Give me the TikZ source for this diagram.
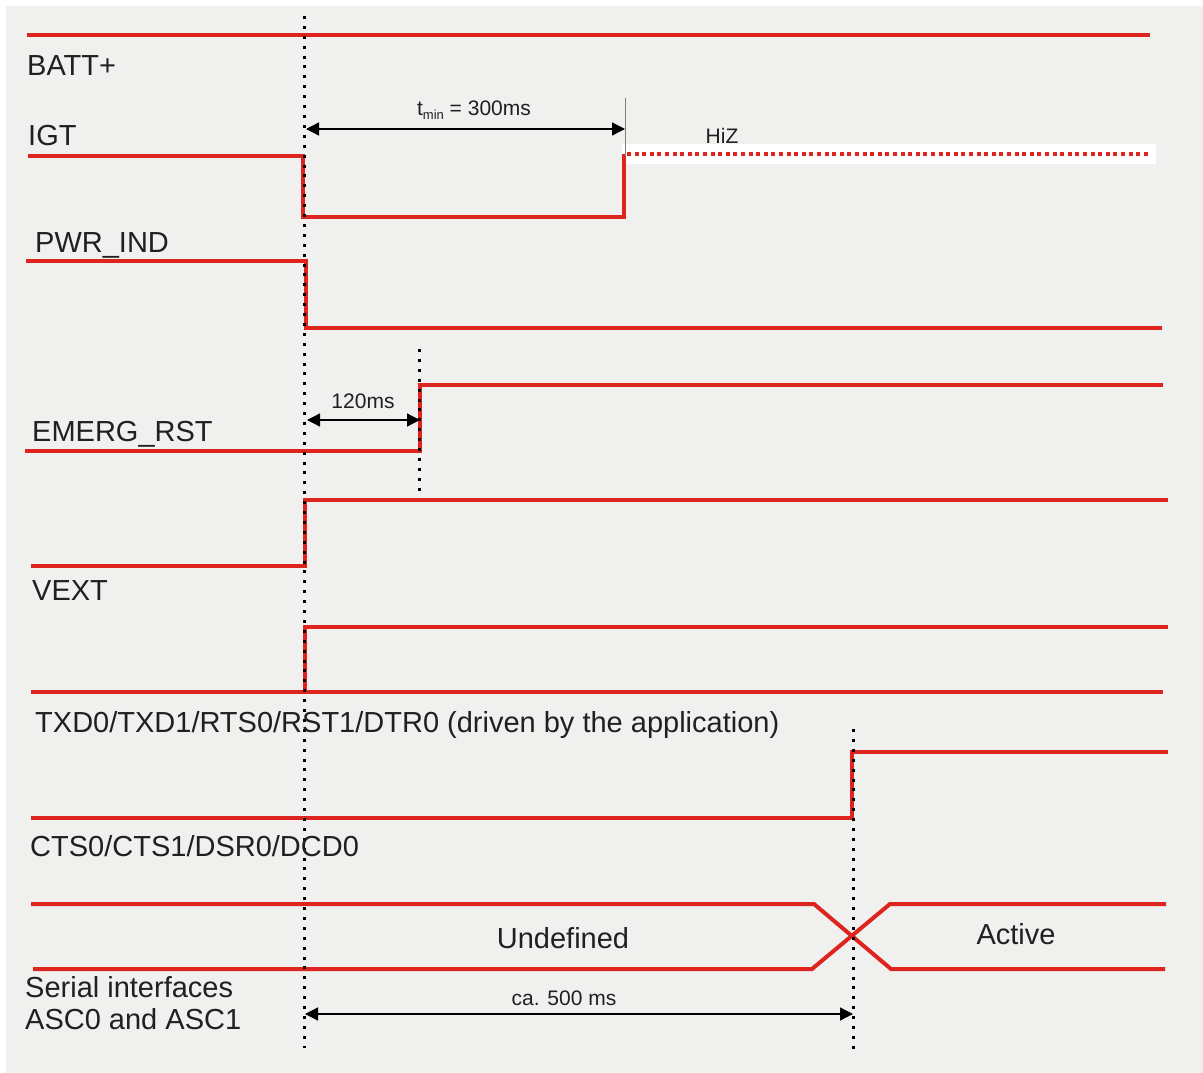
\documentclass[tikz,border=0pt]{standalone}
\usepackage{fontspec}
\setmainfont{Liberation Sans}
\usetikzlibrary{arrows.meta}
\definecolor{sigred}{RGB}{221,36,30}
\definecolor{bggray}{RGB}{240,240,238}
\definecolor{txt}{RGB}{35,31,32}
\begin{document}
\begin{tikzpicture}[x=1pt,y=-1pt,
  sig/.style={draw=sigred, line width=4pt, line join=miter},
  hiz/.style={draw=sigred, line width=4pt, dash pattern=on 4pt off 3.6pt},
  marker/.style={draw=black, line width=3pt, dash pattern=on 3pt off 6.9pt},
  lbl/.style={anchor=base west, inner sep=0pt, text=txt, font=\fontsize{29}{32}\selectfont},
  mid/.style={anchor=base, inner sep=0pt, text=txt, font=\fontsize{29}{32}\selectfont},
  small/.style={anchor=base, inner sep=0pt, text=txt, font=\fontsize{21}{24}\selectfont},
  dim/.style={draw=black, line width=1.3pt, {Triangle[length=13pt,width=13pt]}-{Triangle[length=13pt,width=13pt]}},
  tick/.style={draw=gray, line width=1pt},
]
\useasboundingbox (0,0) rectangle (1203,1073);
\fill[white] (0,0) rectangle (1203,1073);
\fill[bggray] (6,6) rectangle (1203,1073);
\fill[white] (622,144) rectangle (1156,164);

% signals
\draw[sig] (27,35) -- (1150,35);
\draw[sig] (28,156) -- (303,156) -- (303,217) -- (624,217) -- (624,154);
\draw[hiz] (627,154) -- (1150,154);
\draw[tick] (625,98) -- (625,156);
\draw[sig] (26,261) -- (306,261) -- (306,328) -- (1162,328);
\draw[sig] (25,451) -- (420,451) -- (420,385) -- (1163,385);
\draw[sig] (31,566) -- (305,566) -- (305,500) -- (1168,500);
\draw[sig] (31,692) -- (1163,692);
\draw[sig] (305,692) -- (305,627) -- (1168,627);
\draw[sig] (31,818) -- (852,818) -- (852,752) -- (1168,752);
\draw[sig] (31,904) -- (814,904) -- (891,969) -- (1165,969);
\draw[sig] (33,969) -- (812,969) -- (890,904) -- (1166,904);

% markers
\draw[marker] (304,16) -- (304,1048);
\draw[marker] (419,349) -- (419,497);
\draw[marker] (853,729) -- (853,1050);

% dimension arrows
\coordinate (tminL) at (306,129);
\coordinate (tminR) at (625,129);
\coordinate (rstL) at (307,420);
\coordinate (rstR) at (420,420);
\coordinate (serL) at (305,1014);
\coordinate (serR) at (853,1014);
\draw[dim] (tminL) -- (tminR);
\draw[dim] (rstL) -- (rstR);
\draw[dim] (serL) -- (serR);

% labels
\node[lbl] (batt) at (27,76) {BATT+};
\node[lbl] (igt) at (28,146) {IGT};
\node[lbl] (pwr) at (35,252) {PWR\_IND};
\node[lbl] (emerg) at (32,441) {EMERG\_RST};
\node[lbl] (vext) at (32,600) {VEXT};
\node[lbl] (txd) at (35,732) {TXD0/TXD1/RTS0/RST1/DTR0 (driven by the application)};
\node[lbl] (cts) at (30,856) {CTS0/CTS1/DSR0/DCD0};
\node[lbl] (ser1) at (25,997) {Serial interfaces};
\node[lbl] (ser2) at (25,1029) {ASC0 and ASC1};
\node[mid] (undef) at (563,948) {Undefined};
\node[mid] (active) at (1016,944) {Active};
\node[small] (t120) at (363,408) {120ms};
\node[small] (t500) at (564,1005) {ca. 500 ms};
\node[small] (hiz) at (722,143) {HiZ};
\node[small] (tmin) at (474,116) {t{\fontsize{13}{14}\selectfont\raisebox{-3pt}{min}} = 300ms};
\end{tikzpicture}
\end{document}
